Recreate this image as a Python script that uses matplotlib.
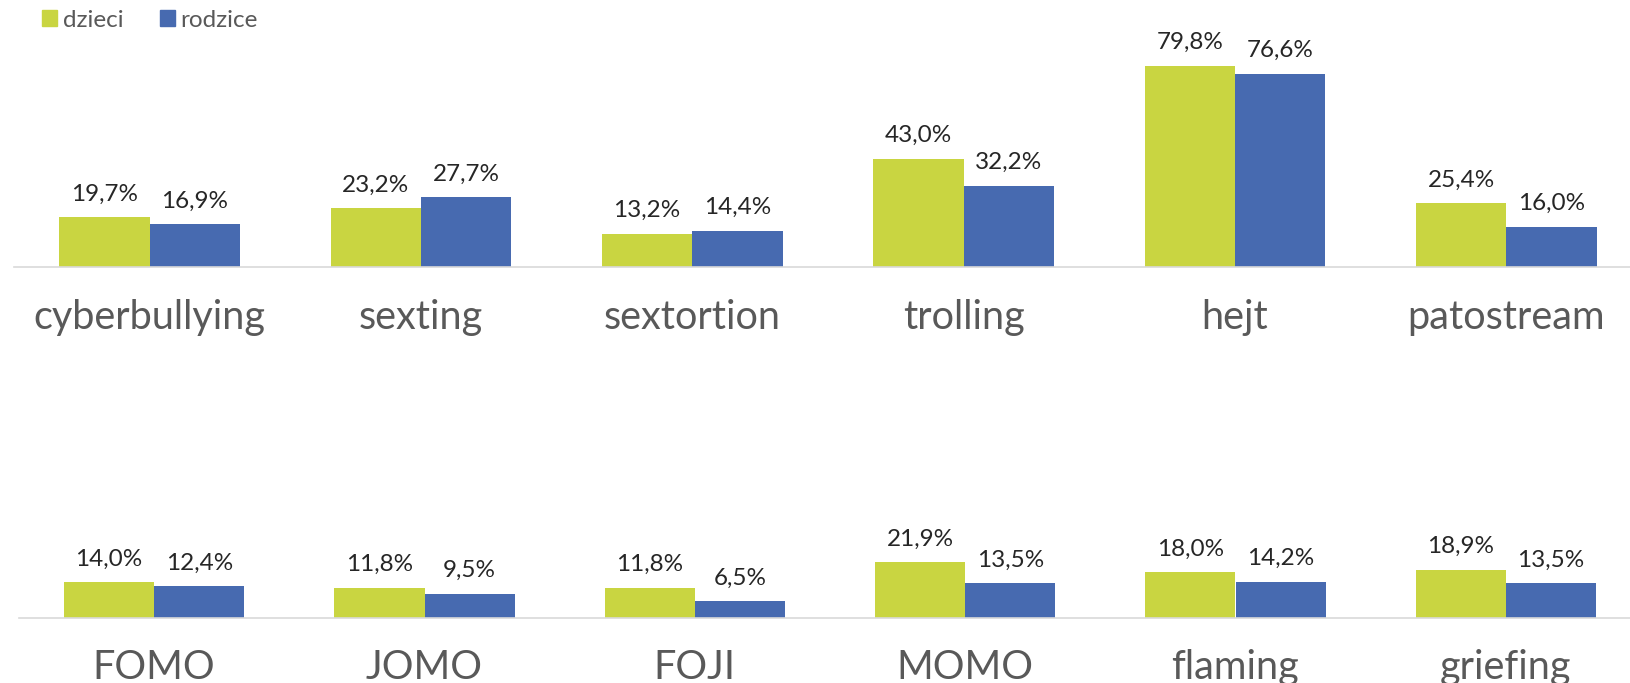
import numpy as np
import matplotlib.pyplot as plt
from matplotlib.patches import Patch

plt.rcParams['font.family'] = ['Lato', 'DejaVu Sans']

top_cats = ['cyberbullying', 'sexting', 'sextortion', 'trolling', 'hejt', 'patostream']
top_dzieci = [19.7, 23.2, 13.2, 43.0, 79.8, 25.4]
top_rodzice = [16.9, 27.7, 14.4, 32.2, 76.6, 16.0]

bot_cats = ['FOMO', 'JOMO', 'FOJI', 'MOMO', 'flaming', 'griefing']
bot_dzieci = [14.0, 11.8, 11.8, 21.9, 18.0, 18.9]
bot_rodzice = [12.4, 9.5, 6.5, 13.5, 14.2, 13.5]

GREEN = '#C9D541'
BLUE = '#476AB0'
W, H = 1630, 683
DPI = 100


def fmt(v):
    return f'{v:.1f}%'.replace('.', ',')


def panel(ax, cats, dzieci, rodzice):
    x = np.arange(len(cats))
    bw = 0.333
    b1 = ax.bar(x - bw / 2, dzieci, bw, color=GREEN)
    b2 = ax.bar(x + bw / 2, rodzice, bw, color=BLUE)
    for bars, vals in ((b1, dzieci), (b2, rodzice)):
        for b, v in zip(bars, vals):
            ax.annotate(fmt(v), (b.get_x() + b.get_width() / 2, v),
                        xytext=(0, 9), textcoords='offset points',
                        ha='center', va='bottom', fontsize=17.5,
                        color='#262626', annotation_clip=False)
    ax.set_xticks(x)
    ax.set_xticklabels(cats, fontsize=28.5, color='#595959')
    ax.tick_params(axis='x', length=0, pad=23)
    ax.set_yticks([])
    ax.set_ylim(0, 90)
    ax.set_xlim(-0.5, 5.5)
    for s in ('top', 'right', 'left'):
        ax.spines[s].set_visible(False)
    ax.spines['bottom'].set_color('#D9D9D9')
    ax.spines['bottom'].set_linewidth(1.2)


fig = plt.figure(figsize=(W / DPI, H / DPI), dpi=DPI)
ax1 = fig.add_axes([14 / W, (H - 267) / H, 1628 / W, 227 / H])
ax2 = fig.add_axes([19 / W, (H - 617.5) / H, 1622 / W, 227 / H])
panel(ax1, top_cats, top_dzieci, top_rodzice)
panel(ax2, bot_cats, bot_dzieci, bot_rodzice)

handles = [Patch(color=GREEN, label='dzieci'), Patch(color=BLUE, label='rodzice')]
leg = fig.legend(handles=handles, loc='upper left', bbox_to_anchor=(0.02, 1.0),
                 borderaxespad=0.2, borderpad=0.2,
                 ncol=2, frameon=False, fontsize=17.5, handlelength=0.6,
                 handleheight=0.6, handletextpad=0.25, columnspacing=1.5)
for t in leg.get_texts():
    t.set_color('#595959')

fig.savefig('out.png', dpi=DPI)
